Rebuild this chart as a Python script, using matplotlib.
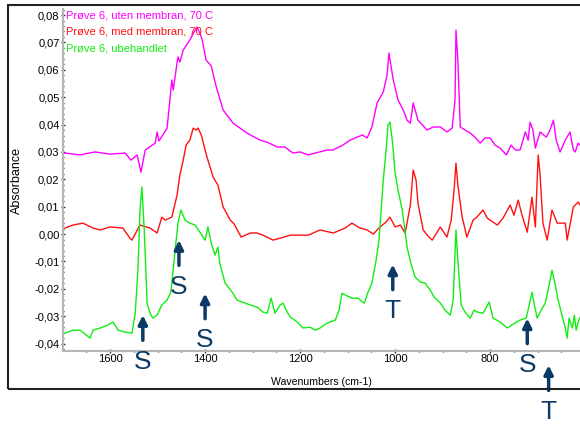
import matplotlib
matplotlib.use('Agg')
import matplotlib.pyplot as plt
from matplotlib.patches import Rectangle
from matplotlib.ticker import MultipleLocator, FuncFormatter

plt.rcParams['font.family'] = ['Liberation Sans', 'DejaVu Sans']

# spectra: wavenumber (cm-1) and absorbance
wn_uten = [1695, 1663, 1632, 1600, 1568, 1556, 1543, 1535, 1526, 1505, 1501, 1497, 1480, 1474,
           1470, 1467, 1459, 1457, 1453, 1446, 1432, 1421, 1417, 1411, 1406, 1398, 1387, 1377,
           1362, 1341, 1312, 1284, 1270, 1248, 1232, 1215, 1200, 1183, 1168, 1143, 1131, 1110,
           1095, 1080, 1069, 1059, 1049, 1038, 1025, 1017, 1013, 1004, 994, 983, 975, 968, 962,
           952, 933, 920, 905, 891, 880, 874, 872, 868, 863, 853, 842, 832, 821, 811, 800, 790,
           779, 766, 756, 747, 737, 726, 720, 716, 710, 705, 695, 682, 674, 667, 661, 653, 642,
           632, 625, 621, 615, 611]
abs_uten = [0.0296, 0.0289, 0.0300, 0.0292, 0.0296, 0.0270, 0.0289, 0.0226, 0.0307, 0.0332,
            0.0373, 0.0340, 0.0387, 0.0490, 0.0563, 0.0526, 0.0625, 0.0647, 0.0628, 0.0672,
            0.0709, 0.0745, 0.0756, 0.0734, 0.0709, 0.0636, 0.0614, 0.0541, 0.0453, 0.0405,
            0.0369, 0.0343, 0.0336, 0.0318, 0.0318, 0.0296, 0.0300, 0.0289, 0.0296, 0.0307,
            0.0307, 0.0325, 0.0343, 0.0354, 0.0362, 0.0351, 0.0391, 0.0479, 0.0519, 0.0581,
            0.0661, 0.0563, 0.0490, 0.0453, 0.0416, 0.0405, 0.0479, 0.0416, 0.0380, 0.0391,
            0.0391, 0.0373, 0.0387, 0.0490, 0.0745, 0.0636, 0.0391, 0.0380, 0.0369, 0.0354,
            0.0332, 0.0351, 0.0351, 0.0325, 0.0314, 0.0289, 0.0325, 0.0307, 0.0307, 0.0373,
            0.0343, 0.0409, 0.0380, 0.0314, 0.0373, 0.0354, 0.0380, 0.0416, 0.0343, 0.0300,
            0.0343, 0.0373, 0.0307, 0.0300, 0.0332, 0.0325]

wn_med = [1695, 1678, 1657, 1636, 1621, 1600, 1573, 1558, 1554, 1537, 1516, 1501, 1491, 1484,
          1470, 1459, 1453, 1446, 1440, 1432, 1425, 1419, 1415, 1408, 1396, 1383, 1373, 1362,
          1347, 1339, 1324, 1305, 1291, 1278, 1257, 1242, 1221, 1204, 1183, 1158, 1130, 1105,
          1091, 1074, 1059, 1046, 1032, 1019, 1011, 1000, 989, 979, 968, 962, 956, 952, 941,
          931, 922, 905, 891, 882, 876, 872, 868, 859, 849, 836, 828, 815, 806, 785, 773, 758,
          750, 741, 733, 722, 712, 705, 699, 695, 689, 680, 670, 659, 642, 638, 625, 615, 611]
abs_med = [0.0022, 0.0033, 0.0040, 0.0022, 0.0015, 0.0026, 0.0022, -0.0015, -0.0022, 0.0033,
           0.0022, 0.0004, 0.0062, 0.0051, 0.0062, 0.0142, 0.0216, 0.0270, 0.0325, 0.0343,
           0.0387, 0.0380, 0.0387, 0.0362, 0.0281, 0.0208, 0.0179, 0.0099, 0.0051, 0.0037,
           -0.0011, 0.0004, 0.0004, -0.0004, -0.0022, -0.0015, -0.0004, -0.0004, -0.0004,
           0.0015, 0.0004, 0.0022, 0.0040, 0.0022, 0.0015, 0.0000, 0.0026, 0.0044, 0.0062,
           0.0026, 0.0033, 0.0004, 0.0106, 0.0234, 0.0197, 0.0113, 0.0015, -0.0007, -0.0022,
           0.0026, -0.0011, 0.0051, 0.0161, 0.0259, 0.0179, 0.0062, -0.0011, 0.0051, 0.0062,
           0.0088, 0.0058, 0.0033, 0.0058, 0.0106, 0.0069, 0.0124, 0.0069, 0.0007, 0.0135,
           0.0026, 0.0289, 0.0216, 0.0040, -0.0022, 0.0088, 0.0040, 0.0040, -0.0022, 0.0099,
           0.0117, 0.0106]

wn_ube = [1695, 1678, 1663, 1642, 1636, 1621, 1604, 1594, 1583, 1568, 1554, 1547, 1541, 1537,
          1533, 1528, 1522, 1516, 1510, 1501, 1491, 1480, 1472, 1463, 1457, 1451, 1442, 1432,
          1421, 1411, 1400, 1394, 1387, 1379, 1373, 1369, 1358, 1343, 1333, 1316, 1305, 1290,
          1278, 1269, 1261, 1253, 1242, 1236, 1227, 1221, 1206, 1194, 1179, 1168, 1158, 1147,
          1137, 1126, 1118, 1112, 1101, 1091, 1078, 1069, 1065, 1057, 1049, 1040, 1034, 1025,
          1019, 1015, 1011, 1006, 1000, 994, 985, 975, 966, 958, 947, 937, 926, 918, 905, 895,
          884, 878, 872, 868, 861, 853, 842, 834, 827, 815, 802, 794, 779, 764, 752, 737, 724,
          718, 712, 707, 701, 693, 684, 676, 670, 663, 657, 649, 642, 638, 634, 627, 623, 619,
          615, 611]
abs_ube = [-0.0362, -0.0351, -0.0351, -0.0380, -0.0351, -0.0343, -0.0332, -0.0321, -0.0351,
           -0.0358, -0.0362, -0.0289, -0.0121, 0.0088, 0.0172, 0.0015, -0.0252, -0.0289,
           -0.0307, -0.0296, -0.0259, -0.0241, -0.0212, -0.0058, 0.0040, 0.0088, 0.0051,
           0.0040, 0.0033, 0.0007, -0.0022, 0.0026, -0.0033, -0.0077, -0.0047, -0.0106,
           -0.0179, -0.0212, -0.0241, -0.0252, -0.0259, -0.0267, -0.0285, -0.0289, -0.0234,
           -0.0289, -0.0259, -0.0252, -0.0285, -0.0303, -0.0321, -0.0343, -0.0340, -0.0351,
           -0.0343, -0.0329, -0.0321, -0.0314, -0.0278, -0.0216, -0.0226, -0.0234, -0.0234,
           -0.0248, -0.0252, -0.0212, -0.0179, -0.0095, -0.0022, 0.0197, 0.0307, 0.0398,
           0.0409, 0.0343, 0.0223, 0.0161, 0.0088, -0.0047, -0.0113, -0.0157, -0.0175,
           -0.0179, -0.0205, -0.0230, -0.0252, -0.0278, -0.0296, -0.0241, 0.0015, -0.0095,
           -0.0259, -0.0285, -0.0307, -0.0278, -0.0285, -0.0289, -0.0248, -0.0307, -0.0321,
           -0.0343, -0.0329, -0.0314, -0.0307, -0.0259, -0.0212, -0.0259, -0.0307, -0.0278,
           -0.0252, -0.0186, -0.0132, -0.0186, -0.0241, -0.0296, -0.0343, -0.0380, -0.0307,
           -0.0343, -0.0296, -0.0351, -0.0321, -0.0303]

series_names = ['Prøve 6, uten membran, 70 C', 'Prøve 6, med membran, 70 C', 'Prøve 6, ubehandlet']
series_colors = ['#ff00ff', '#ff1111', '#11ee11']

# band markers: letter, wavenumber, absorbance at arrow tip
marker_labels = ['S', 'S', 'S', 'T', 'S', 'T']
marker_wn = [1531, 1455, 1400, 1005, 722, 677]
marker_tip = [-0.0296, -0.0022, -0.0217, -0.0111, -0.0308, -0.0479]

fig = plt.figure(figsize=(5.8, 4.24), dpi=100)
ax = fig.add_axes([63 / 580, 73 / 424, 517 / 580, 342 / 424])

# outer frame around the whole chart
fig.patches.append(Rectangle((8 / 580, 35 / 424), 1.1, 384 / 424, transform=fig.transFigure,
                             fill=False, lw=1.5, ec='#222222'))

for wn, ab, col in zip([wn_uten, wn_med, wn_ube], [abs_uten, abs_med, abs_ube], series_colors):
    ax.plot(wn, ab, color=col, lw=1.0)

ax.set_xlim(1699, 611)
ax.set_ylim(-0.0427, 0.0822)

for i, (name, col) in enumerate(zip(series_names, series_colors)):
    ax.text(0.006, 0.982 - i * 0.049, name, color=col, fontsize=8, va='center', ha='left',
            transform=ax.transAxes)

navy = '#0b3a66'
for lab, x, tip in zip(marker_labels, marker_wn, marker_tip):
    tail = tip - 0.0092
    ax.annotate('', xy=(x, tip), xytext=(x, tail), annotation_clip=False,
                arrowprops=dict(arrowstyle='-|>', color=navy, lw=2.5, mutation_scale=13,
                                shrinkA=0, shrinkB=0))
    ax.text(x, tail - 0.0078, lab, color=navy, fontsize=19, ha='center', va='center',
            clip_on=False)

ax.xaxis.set_major_locator(MultipleLocator(200))
ax.xaxis.set_minor_locator(MultipleLocator(50))
ax.yaxis.set_major_locator(MultipleLocator(0.01))
ax.yaxis.set_minor_locator(MultipleLocator(0.002))
ax.yaxis.set_major_formatter(FuncFormatter(
    lambda v, p: ('%.2f' % (0 if abs(v) < 1e-9 else v)).replace('.', ',')))

for side in ['top', 'right']:
    ax.spines[side].set_visible(False)
for side in ['left', 'bottom']:
    ax.spines[side].set_color('#b5b5b5')
    ax.spines[side].set_linewidth(1.5)
ax.tick_params(which='major', length=3, width=1, color='#333333', direction='inout',
               labelsize=8, pad=1)
ax.tick_params(which='minor', length=2, width=1, color='#333333', direction='inout')

ax.set_xlabel('Wavenumbers (cm-1)', fontsize=7.6, labelpad=9)
ax.set_ylabel('Absorbance', fontsize=9, labelpad=8)

fig.savefig('out.png', dpi=100)
